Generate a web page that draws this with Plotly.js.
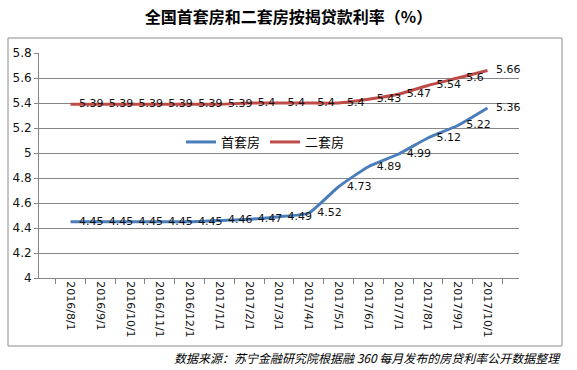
<!DOCTYPE html>
<html>
<head>
<meta charset="utf-8">
<script src="https://cdn.plot.ly/plotly-3.0.1.min.js"></script>
<style>html,body{margin:0;padding:0;background:#fff;}#chart{width:577px;height:370px;}</style>
</head>
<body>
<div id="chart"></div>
<script>
var categories = ["2016/8/1","2016/9/1","2016/10/1","2016/11/1","2016/12/1","2017/1/1","2017/2/1","2017/3/1","2017/4/1","2017/5/1","2017/6/1","2017/7/1","2017/8/1","2017/9/1","2017/10/1"];
var firstHome = [4.45,4.45,4.45,4.45,4.45,4.46,4.47,4.49,4.52,4.73,4.89,4.99,5.12,5.22,5.36];
var secondHome = [5.39,5.39,5.39,5.39,5.39,5.39,5.4,5.4,5.4,5.4,5.43,5.47,5.54,5.6,5.66];
var seriesNames = ["首套房","二套房"];
var yTicks = [4,4.2,4.4,4.6,4.8,5,5.2,5.4,5.6,5.8];
var yTickText = ["4","4.2","4.4","4.6","4.8","5","5.2","5.4","5.6","5.8"];

var labelFont = {family: "DejaVu Sans, Verdana, sans-serif", size: 11, color: "#111"};
function mk(vals, name, color) {
  return {
    x: categories, y: vals, name: name, type: "scatter",
    mode: "lines+markers+text",
    line: {color: color, width: 3, shape: "spline", smoothing: 0.5},
    marker: {size: 12, color: "rgba(0,0,0,0)"},
    text: vals.map(String), textposition: "middle right",
    textfont: labelFont, cliponaxis: false, hoverinfo: "skip"
  };
}
var data = [mk(firstHome, seriesNames[0], "#4a7ebb"), mk(secondHome, seriesNames[1], "#be4b48")];

var layout = {
  width: 577, height: 370,
  margin: {l: 39, r: 58, t: 53, b: 92},
  paper_bgcolor: "#fff", plot_bgcolor: "#fff",
  font: {family: "DejaVu Sans, Verdana, sans-serif", size: 11, color: "#111"},
  title: {text: "全国首套房和二套房按揭贷款利率（%）", font: {family: "Noto Sans CJK SC", size: 16, color: "#000", weight: "bold"}, x: 0.5, xanchor: "center", y: 1 - 17/370, yanchor: "middle", yref: "container"},
  showlegend: true,
  legend: {orientation: "h", x: (181-39)/480, xanchor: "left", y: (278-142)/225, yanchor: "middle",
           font: {family: "Noto Sans CJK SC", size: 13, color: "#000"}, bgcolor: "rgba(0,0,0,0)", itemwidth: 30, tracegroupgap: 0},
  xaxis: {type: "category", tickson: "boundaries", ticks: "outside", ticklen: 5, tickcolor: "#868686",
          showline: true, linecolor: "#868686", linewidth: 1, showgrid: false, tickangle: 90,
          tickfont: {family: "DejaVu Sans, Verdana, sans-serif", size: 11, color: "#111"}, fixedrange: true, zeroline: false},
  yaxis: {range: [4, 5.8], tickvals: yTicks, ticktext: yTickText, ticks: "outside", ticklen: 4, tickcolor: "#868686",
          showline: true, linecolor: "#868686", showgrid: true, gridcolor: "#868686", gridwidth: 1, zeroline: false,
          tickfont: {family: "DejaVu Sans, Verdana, sans-serif", size: 12, color: "#111"}, fixedrange: true},
  shapes: [{type: "rect", xref: "paper", yref: "paper",
            x0: (8-39)/480, x1: (562-39)/480, y0: (278-346)/225, y1: (278-38)/225,
            line: {color: "#8c8c8c", width: 1}, fillcolor: "rgba(0,0,0,0)", layer: "below"}],
  annotations: [{text: "<i>数据来源：苏宁金融研究院根据融 360 每月发布的房贷利率公开数据整理</i>", xref: "paper", yref: "paper",
                 x: (563-39)/480, xanchor: "right", y: (278-357)/225, yanchor: "middle", showarrow: false,
                 font: {family: "Noto Sans CJK SC", size: 12, color: "#000"}}]
};
Plotly.newPlot("chart", data, layout, {staticPlot: true, displayModeBar: false});
</script>
</body>
</html>
